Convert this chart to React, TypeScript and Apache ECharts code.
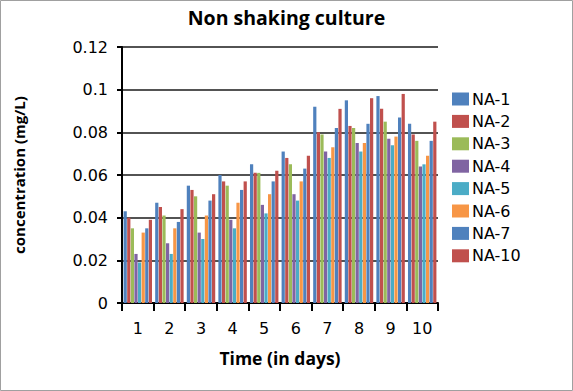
import React, { useEffect, useRef } from "react";
import * as echarts from "echarts";

const days = ["1", "2", "3", "4", "5", "6", "7", "8", "9", "10"];
const seriesNames = ["NA-1", "NA-2", "NA-3", "NA-4", "NA-5", "NA-6", "NA-7", "NA-10"];
const seriesColors = ["#4F81BD", "#C0504D", "#9BBB59", "#8064A2", "#4BACC6", "#F79646", "#4F81BD", "#C0504D"];

const na1 = [0.043, 0.047, 0.055, 0.06, 0.065, 0.071, 0.092, 0.095, 0.097, 0.084];
const na2 = [0.04, 0.045, 0.053, 0.057, 0.061, 0.068, 0.08, 0.083, 0.091, 0.079];
const na3 = [0.035, 0.041, 0.05, 0.055, 0.061, 0.065, 0.079, 0.082, 0.085, 0.076];
const na4 = [0.023, 0.028, 0.033, 0.039, 0.046, 0.051, 0.071, 0.075, 0.077, 0.064];
const na5 = [0.019, 0.023, 0.03, 0.035, 0.042, 0.048, 0.068, 0.071, 0.074, 0.065];
const na6 = [0.033, 0.035, 0.041, 0.047, 0.051, 0.057, 0.073, 0.075, 0.078, 0.069];
const na7 = [0.035, 0.038, 0.048, 0.053, 0.057, 0.063, 0.082, 0.084, 0.087, 0.076];
const na10 = [0.039, 0.044, 0.051, 0.057, 0.062, 0.069, 0.091, 0.096, 0.098, 0.085];

const seriesData = [na1, na2, na3, na4, na5, na6, na7, na10];

export default function App() {
  const ref = useRef<HTMLDivElement>(null);
  useEffect(() => {
    document.body.style.margin = "0";
    if (!ref.current) return;
    const chart = echarts.init(ref.current, undefined, { renderer: "svg" });
    chart.setOption({
      animation: false,
      backgroundColor: "#ffffff",
      title: {
        text: "Non shaking culture",
        left: "center",
        top: 2,
        textStyle: { fontFamily: "Open Sans", fontWeight: "bold", fontSize: 19.5, color: "#000" },
      },
      graphic: [
        {
          type: "rect",
          shape: { x: 0.5, y: 0.5, width: 572, height: 390 },
          style: { fill: "none", stroke: "#a0a0a0", lineWidth: 1 },
          silent: true,
        },
      ],
      legend: {
        orient: "vertical",
        left: 447,
        top: 86,
        itemWidth: 17,
        itemHeight: 13,
        itemGap: 6.4,
        icon: "rect",
        data: seriesNames,
        textStyle: { fontFamily: "DejaVu Sans", fontSize: 16, color: "#000", lineHeight: 16, padding: [0, 0, 0, -2] },
      },
      grid: { left: 122, top: 47, right: 135, bottom: 88, containLabel: false },
      xAxis: {
        type: "category",
        data: days,
        name: "Time (in days)",
        nameLocation: "middle",
        nameGap: 46,
        nameTextStyle: { fontFamily: "Open Sans", fontWeight: "bold", fontSize: 17.5, color: "#000" },
        axisLine: { lineStyle: { color: "#000", width: 2 } },
        axisTick: { show: true, length: 8, lineStyle: { color: "#000", width: 2 } },
        axisLabel: { margin: 17, fontFamily: "DejaVu Sans", fontSize: 16, color: "#000" },
      },
      yAxis: {
        type: "value",
        min: 0,
        max: 0.12,
        interval: 0.02,
        name: "concentration (mg/L)",
        nameLocation: "middle",
        nameGap: 96,
        nameTextStyle: { fontFamily: "Open Sans", fontWeight: "bold", fontSize: 15, color: "#000" },
        axisLine: { show: true, lineStyle: { color: "#000", width: 2 } },
        axisTick: { show: true, length: 5, lineStyle: { color: "#000", width: 2 } },
        axisLabel: {
          margin: 14,
          fontFamily: "DejaVu Sans",
          fontSize: 16,
          color: "#000",
          formatter: (v: number) => String(+v.toFixed(2)),
        },
        splitLine: { show: true, lineStyle: { color: "#1a1a1a", width: 1.5 } },
      },
      series: seriesNames.map((name, i) => ({
        name,
        type: "bar",
        data: seriesData[i],
        barGap: "12%",
        barCategoryGap: "10%",
        itemStyle: { color: seriesColors[i] },
      })),
    });
    return () => chart.dispose();
  }, []);
  return <div ref={ref} style={{ width: 573, height: 391 }} />;
}
